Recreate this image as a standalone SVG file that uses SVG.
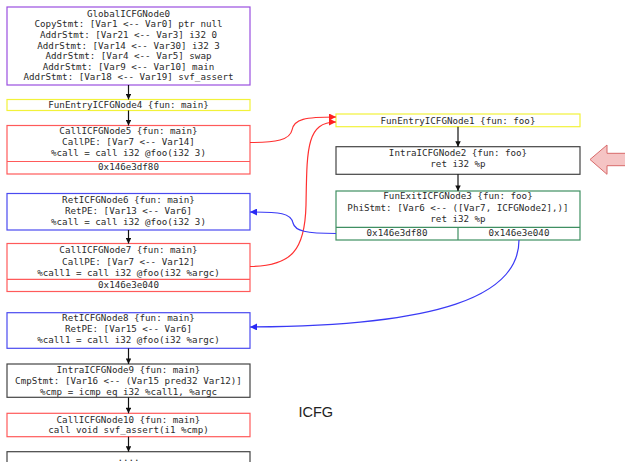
<svg xmlns="http://www.w3.org/2000/svg" width="625" height="462" viewBox="0 0 625 462">
  <style>
    .box { fill: #ffffff; stroke-width: 1.2; }
    .global { stroke: #9a4fe0; }
    .entry { stroke: #f2f23a; }
    .call { stroke: #ff5a5a; }
    .ret { stroke: #4a4af0; }
    .intra { stroke: #444444; }
    .exit { stroke: #3f8f62; }
    .div { stroke-width: 1.2; fill: none; }
    .t { font-family: "DejaVu Sans Mono", "Liberation Mono", monospace; font-size: 9.2px; fill: #2a2a2a; text-anchor: middle; }
    .e { fill: none; stroke-width: 1.2; }
    .eb { stroke: #111111; }
    .er { stroke: #ff3030; }
    .ebl { stroke: #3a3af5; }
    .title { font-family: "Liberation Sans", Arial, sans-serif; font-size: 14.5px; fill: #222222; }
  </style>
  <defs>
    <marker id="ab" markerUnits="userSpaceOnUse" viewBox="0 0 10 10" refX="10" refY="5" markerWidth="7" markerHeight="5.5" orient="auto">
      <path d="M0,0 L10,5 L0,10 z" fill="#111111"/>
    </marker>
    <marker id="ar" markerUnits="userSpaceOnUse" viewBox="0 0 10 10" refX="10" refY="5" markerWidth="9" markerHeight="7" orient="auto">
      <path d="M0,0 L10,5 L0,10 z" fill="#ff2020"/>
    </marker>
    <marker id="abl" markerUnits="userSpaceOnUse" viewBox="0 0 10 10" refX="10" refY="5" markerWidth="9" markerHeight="7" orient="auto">
      <path d="M0,0 L10,5 L0,10 z" fill="#2a2af5"/>
    </marker>
  </defs>

  <!-- main function nodes -->
  <g id="GlobalICFGNode0">
    <rect class="box global" x="7" y="7" width="243" height="78"/>
    <text class="t" x="128.5" y="16.5">GlobalICFGNode0</text>
    <text class="t" x="128.5" y="27.3">CopyStmt: [Var1 &lt;-- Var0] ptr null</text>
    <text class="t" x="128.5" y="38">AddrStmt: [Var21 &lt;-- Var3] i32 0</text>
    <text class="t" x="128.5" y="48.6">AddrStmt: [Var14 &lt;-- Var30] i32 3</text>
    <text class="t" x="128.5" y="59.2">AddrStmt: [Var4 &lt;-- Var5] swap</text>
    <text class="t" x="128.5" y="69.8">AddrStmt: [Var9 &lt;-- Var10] main</text>
    <text class="t" x="128.5" y="80.4">AddrStmt: [Var18 &lt;-- Var19] svf_assert</text>
  </g>
  <g id="FunEntryICFGNode4">
    <rect class="box entry" x="7" y="99.5" width="243" height="11"/>
    <text class="t" x="128.5" y="108.3">FunEntryICFGNode4 {fun: main}</text>
  </g>
  <g id="CallICFGNode5">
    <rect class="box call" x="7" y="125.5" width="243" height="48.5"/>
    <line class="div" x1="7" y1="161.5" x2="250" y2="161.5" stroke="#ff5a5a"/>
    <text class="t" x="128.5" y="133.5">CallICFGNode5 {fun: main}</text>
    <text class="t" x="128.5" y="145">CallPE: [Var7 &lt;-- Var14]</text>
    <text class="t" x="128.5" y="156.3">%call = call i32 @foo(i32 3)</text>
    <text class="t" x="128.5" y="169.5">0x146e3df80</text>
  </g>
  <g id="RetICFGNode6">
    <rect class="box ret" x="7" y="193.5" width="243" height="36.5"/>
    <text class="t" x="128.5" y="202.5">RetICFGNode6 {fun: main}</text>
    <text class="t" x="128.5" y="214">RetPE: [Var13 &lt;-- Var6]</text>
    <text class="t" x="128.5" y="225.3">%call = call i32 @foo(i32 3)</text>
  </g>
  <g id="CallICFGNode7">
    <rect class="box call" x="7" y="243.5" width="243" height="48"/>
    <line class="div" x1="7" y1="279.3" x2="250" y2="279.3" stroke="#ff5a5a"/>
    <text class="t" x="128.5" y="253.3">CallICFGNode7 {fun: main}</text>
    <text class="t" x="128.5" y="264.8">CallPE: [Var7 &lt;-- Var12]</text>
    <text class="t" x="128.5" y="276">%call1 = call i32 @foo(i32 %argc)</text>
    <text class="t" x="128.5" y="288.3">0x146e3e040</text>
  </g>
  <g id="RetICFGNode8">
    <rect class="box ret" x="7" y="312.7" width="243" height="35.6"/>
    <text class="t" x="128.5" y="321.3">RetICFGNode8 {fun: main}</text>
    <text class="t" x="128.5" y="332.3">RetPE: [Var15 &lt;-- Var6]</text>
    <text class="t" x="128.5" y="343.3">%call1 = call i32 @foo(i32 %argc)</text>
  </g>
  <g id="IntraICFGNode9">
    <rect class="box intra" x="7" y="364" width="243" height="33.3"/>
    <text class="t" x="128.5" y="373.3">IntraICFGNode9 {fun: main}</text>
    <text class="t" x="128.5" y="384.3">CmpStmt: [Var16 &lt;-- (Var15 pred32 Var12)]</text>
    <text class="t" x="128.5" y="395.3">%cmp = icmp eq i32 %call1, %argc</text>
  </g>
  <g id="CallICFGNode10">
    <rect class="box call" x="7" y="413.3" width="243" height="23.4"/>
    <text class="t" x="128.5" y="422.6">CallICFGNode10 {fun: main}</text>
    <text class="t" x="128.5" y="433.3">call void svf_assert(i1 %cmp)</text>
  </g>
  <g id="ICFGNode11">
    <rect class="box intra" x="7" y="451.7" width="243" height="20"/>
    <text class="t" x="128.5" y="461">....</text>
  </g>

  <!-- foo function nodes -->
  <g id="FunEntryICFGNode1">
    <rect class="box entry" x="336" y="114" width="244" height="12.7"/>
    <text class="t" x="458" y="123.5">FunEntryICFGNode1 {fun: foo}</text>
  </g>
  <g id="IntraICFGNode2">
    <rect class="box intra" x="336" y="146.7" width="244" height="27.6"/>
    <text class="t" x="458" y="156">IntraICFGNode2 {fun: foo}</text>
    <text class="t" x="458" y="167.3">ret i32 %p</text>
  </g>
  <g id="FunExitICFGNode3">
    <rect class="box exit" x="336" y="191" width="244" height="49"/>
    <line class="div" x1="336" y1="227.3" x2="580" y2="227.3" stroke="#3f8f62"/>
    <line class="div" x1="458" y1="227.3" x2="458" y2="240" stroke="#3f8f62"/>
    <text class="t" x="458" y="199.3">FunExitICFGNode3 {fun: foo}</text>
    <text class="t" x="458" y="210.6">PhiStmt: [Var6 &lt;-- ([Var7, ICFGNode2],)]</text>
    <text class="t" x="458" y="222.3">ret i32 %p</text>
    <text class="t" x="397" y="235.6">0x146e3df80</text>
    <text class="t" x="519" y="235.6">0x146e3e040</text>
  </g>

  <!-- pointer arrow on the right -->
  <g id="pointer">
    <path d="M590,159.5 L607,145 L607,153.3 L626,153.3 L626,165.7 L607,165.7 L607,174.3 z" fill="#f5c4c4" stroke="#d86a6a" stroke-width="1"/>
  </g>

  <text class="title" x="298.5" y="417">ICFG</text>

  <!-- connectors -->
  <g id="edges">
    <path class="e eb" d="M128.5,85 L128.5,99.5" marker-end="url(#ab)"/>
    <path class="e eb" d="M128.5,110.5 L128.5,125.5" marker-end="url(#ab)"/>
    <path class="e eb" d="M128.5,230 L128.5,243.5" marker-end="url(#ab)"/>
    <path class="e eb" d="M128.5,348.3 L128.5,364" marker-end="url(#ab)"/>
    <path class="e eb" d="M128.5,397.3 L128.5,413.3" marker-end="url(#ab)"/>
    <path class="e eb" d="M128.5,436.7 L128.5,451.7" marker-end="url(#ab)"/>
    <path class="e eb" d="M458,126.7 L458,146.7" marker-end="url(#ab)"/>
    <path class="e eb" d="M458,174.3 L458,191" marker-end="url(#ab)"/>

    <path class="e er" d="M250,142.5 C276,142.5 290,140 292,130 C294,119 305,117 336,117" marker-end="url(#ar)"/>
    <path class="e er" d="M250,266.5 C292,266 305,250 306,205 C307,150 306,122 336,122" marker-end="url(#ar)"/>

    <path class="e ebl" d="M336,233.5 C306,233.5 295,231 293,223 C291,213 280,212 250,212" marker-end="url(#abl)"/>
    <path class="e ebl" d="M519,240 C519,296 440,326 250,327" marker-end="url(#abl)"/>
  </g>
</svg>
